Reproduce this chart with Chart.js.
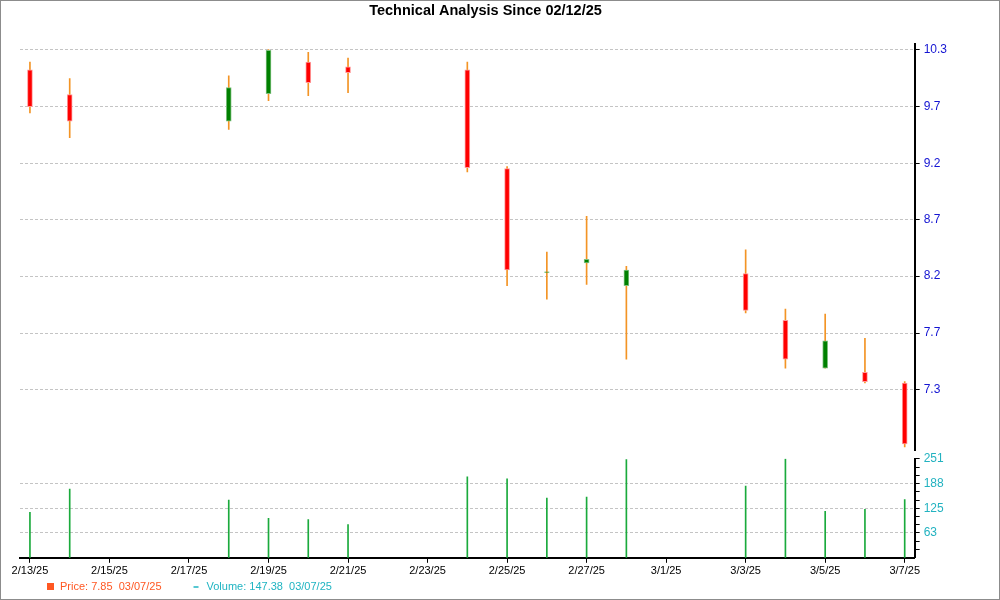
<!DOCTYPE html>
<html>
<head>
<meta charset="utf-8">
<title>Technical Analysis</title>
<script src="https://cdn.jsdelivr.net/npm/chart.js@4.4.1/dist/chart.umd.min.js"></script>
<style>
  html, body { margin: 0; padding: 0; background: #fff; }
  #wrap { width: 1000px; height: 600px; box-sizing: border-box; border: 1px solid #8c8c8c; }
  canvas { display: block; }
</style>
</head>
<body>
<div id="wrap"><canvas id="chart" width="998" height="598"></canvas></div>
<script>
// ---- data ----
const startDate = '2025-02-13';
const dates  = ['2025-02-13','2025-02-14','2025-02-18','2025-02-19','2025-02-20','2025-02-21','2025-02-24','2025-02-25',
                '2025-02-26','2025-02-27','2025-02-28','2025-03-03','2025-03-04','2025-03-05','2025-03-06','2025-03-07'];
const opens  = [10.09, 9.84, 9.58, 9.85, 10.17, 10.12, 10.09, 9.13, 8.22, 8.30, 8.11, 8.21, 7.83, 7.46, 7.43, 7.35];
const highs  = [10.17, 10.00, 10.03, 10.30, 10.27, 10.21, 10.17, 9.15, 8.39, 8.70, 8.27, 8.41, 7.92, 7.88, 7.69, 7.36];
const lows   = [9.66, 9.42, 9.50, 9.78, 9.83, 9.86, 9.10, 8.11, 8.00, 8.12, 7.53, 7.89, 7.46, 7.46, 7.35, 6.89];
const closes = [9.72, 9.58, 9.91, 10.29, 9.96, 10.06, 9.14, 8.24, 8.225, 8.33, 8.24, 7.91, 7.53, 7.67, 7.36, 6.91];
const volumes = [115, 174, 146, 100, 97, 84, 205, 200, 151, 154, 249, 182, 251, 118, 123, 147.38];

const xTickLabels = ['2/13/25','2/15/25','2/17/25','2/19/25','2/21/25','2/23/25','2/25/25','2/27/25','3/1/25','3/3/25','3/5/25','3/7/25'];
const priceTicks = [7.3, 7.73, 8.19, 8.67, 9.18, 9.72, 10.3];
const volTicks = [63, 125, 188, 251];
const volMinorTicks = [21, 42, 84, 105, 146, 167, 209, 230];

const lastPrice = '7.85', lastVolume = '147.38', lastDate = '03/07/25';
// -----------------------------------

const FONT = '"Liberation Sans", Arial, sans-serif';
Chart.defaults.font.family = FONT;
Chart.defaults.font.size = 12;

const priceColor = '#ff5722';
const volColor = '#1fb4c2';

const xs = dates.map(d => (Date.parse(d) - Date.parse(startDate)) / 864e5);
const isUp = i => closes[i] >= opens[i];

// simple legend under the x axis
const bottomLegend = {
  id: 'bottomLegend',
  afterDraw(chart) {
    const c = chart.ctx;
    const y = 586;
    let x = chart.chartArea.left + 27;
    c.save();
    c.font = '11px ' + FONT;
    c.textBaseline = 'middle';
    c.fillStyle = priceColor;
    c.fillRect(x, y - 4, 7, 7);
    x += 13;
    const t1 = 'Price: ' + lastPrice + '  ' + lastDate;
    c.fillText(t1, x, y);
    x += c.measureText(t1).width + 32;
    c.strokeStyle = volColor;
    c.lineWidth = 1.5;
    c.beginPath();
    c.moveTo(x, y);
    c.lineTo(x + 5, y);
    c.stroke();
    x += 13;
    c.fillStyle = volColor;
    c.fillText('Volume: ' + lastVolume + '  ' + lastDate, x, y);
    c.restore();
  }
};

const ctx = document.getElementById('chart').getContext('2d');

new Chart(ctx, {
  type: 'bar',
  data: {
    datasets: [
      { // candle body
        label: 'body',
        data: xs.map((x, i) => ({ x: x, y: [opens[i], closes[i]] })),
        backgroundColor: xs.map((x, i) => isUp(i) ? '#008000' : '#ff0000'),
        borderColor: xs.map((x, i) => isUp(i) ? '#7fc07f' : '#ff9a9a'),
        borderWidth: 1,
        borderSkipped: false,
        barThickness: 5,
        grouped: false,
        yAxisID: 'y',
        order: 1
      },
      { // wicks
        label: 'wick',
        data: xs.map((x, i) => ({ x: x, y: [lows[i], highs[i]] })),
        backgroundColor: '#f39425',
        barThickness: 1,
        grouped: false,
        yAxisID: 'y',
        order: 2
      },
      { // volume
        label: 'volume',
        data: xs.map((x, i) => ({ x: x, y: volumes[i] })),
        backgroundColor: '#1aaa3c',
        barThickness: 1,
        grouped: false,
        yAxisID: 'yv',
        order: 3
      }
    ]
  },
  options: {
    responsive: false,
    animation: false,
    layout: { padding: { left: 19, right: 48, top: 0, bottom: 19 } },
    plugins: {
      tooltip: { enabled: false },
      legend: { display: false },
      title: {
        display: true,
        text: 'Technical Analysis Since 02/12/25',
        color: '#000',
        font: { size: 14.5, weight: 'bold' },
        padding: { top: 1, bottom: 25 }
      }
    },
    scales: {
      x: {
        type: 'linear',
        min: -0.25,
        max: 22.25,
        offset: false,
        afterBuildTicks: s => { s.ticks = xTickLabels.map((t, i) => ({ value: i * 2 })); },
        ticks: {
          color: '#000',
          font: { size: 11 },
          maxRotation: 0,
          autoSkip: false,
          padding: 2,
          callback: (v, i) => xTickLabels[i]
        },
        grid: { drawOnChartArea: false, offset: false, tickColor: '#000', tickLength: 5 },
        border: { color: '#000', width: 2 }
      },
      y: {
        type: 'logarithmic',
        position: 'right',
        stack: 'pane',
        stackWeight: 406,
        min: 6.863,
        max: 10.353,
        afterBuildTicks: s => { s.ticks = priceTicks.map(v => ({ value: v })); },
        ticks: {
          color: '#1414d2',
          padding: 4,
          autoSkip: false,
          callback: v => Number(v).toFixed(1)
        },
        grid: { color: '#c4c4c4', tickColor: '#000', tickLength: 5 },
        border: { color: '#000', width: 2, dash: [3, 2] }
      },
      gap: {
        type: 'linear',
        position: 'right',
        stack: 'pane',
        stackWeight: 8,
        ticks: { display: false },
        grid: { display: false },
        border: { display: false }
      },
      yv: {
        type: 'linear',
        position: 'right',
        stack: 'pane',
        stackWeight: 99,
        min: 0,
        max: 251,
        afterBuildTicks: s => {
          s.ticks = volTicks.map(v => ({ value: v, major: true }))
            .concat(volMinorTicks.map(v => ({ value: v, major: false })));
        },
        ticks: {
          color: '#22b2c0',
          padding: 4,
          autoSkip: false,
          callback: function (v, i, ticks) { return ticks[i].major ? String(v) : ''; }
        },
        grid: {
          color: c => (c.tick && c.tick.major && c.tick.value < 251) ? '#c4c4c4' : 'rgba(0,0,0,0)',
          tickColor: '#000',
          tickLength: 5
        },
        border: { color: '#000', width: 2, dash: [3, 2] }
      }
    }
  },
  plugins: [bottomLegend]
});
</script>
</body>
</html>
